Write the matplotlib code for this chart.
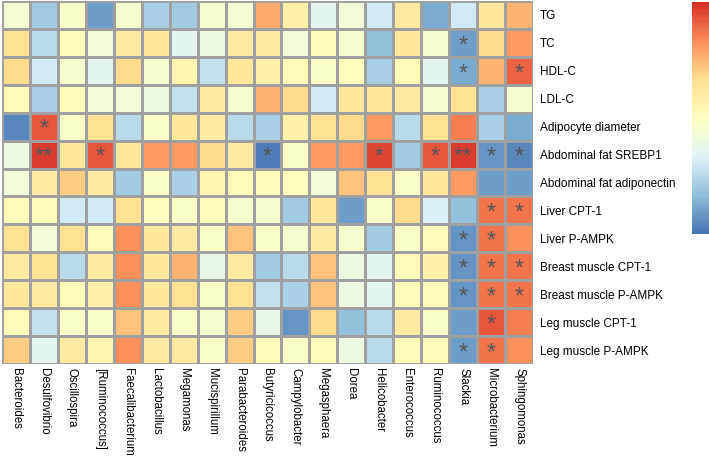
import numpy as np
import matplotlib
matplotlib.use("Agg")
import matplotlib.pyplot as plt
from matplotlib.colors import LinearSegmentedColormap

plt.rcParams['font.family'] = ['Liberation Sans', 'DejaVu Sans']

genera = ['Bacteroides', 'Desulfovibrio', 'Oscillospira', '[Ruminococcus]', 'Faecalibacterium',
          'Lactobacillus', 'Megamonas', 'Mucispirillum', 'Parabacteroides', 'Butyricicoccus',
          'Campylobacter', 'Megasphaera', 'Dorea', 'Helicobacter', 'Enterococcus',
          'Ruminococcus', 'Slackia', 'Microbacterium', 'Sphingomonas']

traits = ['TG', 'TC', 'HDL-C', 'LDL-C', 'Adipocyte diameter', 'Abdominal fat SREBP1',
          'Abdominal fat adiponectin', 'Liver CPT-1', 'Liver P-AMPK', 'Breast muscle CPT-1',
          'Breast muscle P-AMPK', 'Leg muscle CPT-1', 'Leg muscle P-AMPK']

# correlation values, one list per trait
corr = [
    [-0.12, -0.60, -0.08, -0.80, -0.10, -0.55, -0.60, -0.10, -0.12, 0.55, 0.15, -0.30, -0.15, -0.40, 0.20, -0.75, -0.40, 0.25, 0.50],
    [0.30, -0.50, 0.05, -0.15, 0.20, 0.25, -0.30, -0.20, 0.20, 0.20, -0.15, 0.05, -0.10, -0.65, 0.25, -0.10, -0.80, 0.35, 0.60],
    [0.35, -0.40, -0.10, -0.30, 0.35, -0.10, 0.10, -0.45, 0.25, 0.15, 0.05, -0.05, 0.00, -0.55, 0.05, -0.30, -0.75, 0.50, 0.80],
    [0.05, -0.55, 0.05, -0.15, -0.15, -0.20, -0.45, 0.20, -0.10, 0.50, 0.35, -0.40, 0.25, 0.25, 0.20, -0.10, 0.30, -0.55, -0.10],
    [-0.90, 0.85, -0.05, 0.30, -0.50, -0.05, 0.25, 0.20, -0.50, -0.55, 0.15, 0.30, 0.35, 0.60, -0.50, 0.30, 0.70, -0.55, -0.75],
    [-0.20, 0.95, 0.25, 0.85, 0.25, 0.60, 0.60, 0.35, 0.20, -0.95, -0.05, 0.60, 0.60, 0.90, -0.60, 0.85, 0.95, -0.85, -0.90],
    [-0.15, 0.20, 0.40, 0.20, -0.60, -0.05, -0.55, 0.10, 0.05, 0.05, 0.00, -0.15, 0.45, 0.30, -0.05, 0.25, 0.60, -0.80, -0.80],
    [0.05, 0.05, -0.40, -0.40, 0.30, 0.00, -0.05, 0.05, -0.10, -0.10, -0.60, 0.25, -0.80, -0.05, 0.35, -0.35, -0.65, 0.75, 0.75],
    [0.30, -0.15, 0.30, 0.05, 0.65, 0.25, 0.20, -0.05, 0.45, -0.05, -0.10, 0.20, -0.10, -0.60, -0.05, 0.05, -0.85, 0.75, 0.65],
    [0.20, 0.30, -0.50, 0.20, 0.65, 0.25, 0.50, -0.25, 0.20, -0.60, -0.50, 0.45, -0.20, -0.30, 0.05, 0.15, -0.85, 0.75, 0.75],
    [0.25, 0.20, 0.05, 0.15, 0.65, 0.25, 0.30, -0.05, 0.30, -0.45, -0.55, 0.45, -0.20, -0.30, 0.05, 0.05, -0.85, 0.75, 0.75],
    [0.05, -0.45, -0.05, -0.05, 0.45, 0.20, -0.05, -0.10, 0.40, -0.25, -0.85, 0.35, -0.65, -0.50, 0.20, -0.05, -0.80, 0.85, 0.70],
    [0.40, -0.30, 0.20, 0.10, 0.65, 0.20, 0.20, -0.05, 0.40, 0.05, -0.05, 0.05, -0.20, -0.50, 0.05, 0.05, -0.80, 0.75, 0.65],
]

# significance marks: (trait row, genus column, label)
stars = [
    (1, 16, '*'), (2, 16, '*'), (2, 18, '*'),
    (4, 1, '*'),
    (5, 1, '**'), (5, 3, '*'), (5, 9, '*'), (5, 13, '*'), (5, 15, '*'),
    (5, 16, '**'), (5, 17, '*'), (5, 18, '*'),
    (7, 17, '*'), (7, 18, '*'),
    (8, 16, '*'), (8, 17, '*'),
    (9, 16, '*'), (9, 17, '*'), (9, 18, '*'),
    (10, 16, '*'), (10, 17, '*'), (10, 18, '*'),
    (11, 17, '*'),
    (12, 16, '*'), (12, 17, '*'),
]

rdylbu = ['#4575B4', '#91BFDB', '#E0F3F8', '#FFFFBF', '#FEE090', '#FC8D59', '#D73027']
cmap = LinearSegmentedColormap.from_list('pheat', rdylbu, N=100)

data = np.array(corr)

fig = plt.figure(figsize=(7.09, 4.58), dpi=100)
ax = fig.add_axes([2 / 709, 1 - 364 / 458, 531 / 709, 363 / 458])
mesh = ax.pcolormesh(data, cmap=cmap, vmin=-1, vmax=1,
                     edgecolors='#a0a0a0', linewidth=0.9)
ax.set_xlim(0, len(genera))
ax.set_ylim(len(traits), 0)

for r, c, s in stars:
    ax.text(c + 0.5, r + 0.62, s, ha='center', va='center',
            fontsize=17, color='#555555')

ax.set_xticks(np.arange(len(genera)) + 0.5)
ax.set_xticklabels(genera, rotation=270, fontsize=8.3, va='top', ha='center')
ax.set_yticks(np.arange(len(traits)) + 0.5)
ax.set_yticklabels(traits, fontsize=8.5)
ax.yaxis.tick_right()
ax.tick_params(length=0)
ax.tick_params(axis='x', pad=3)
ax.tick_params(axis='y', pad=5)
for sp in ax.spines.values():
    sp.set_visible(False)

cax = fig.add_axes([692 / 709, 1 - 234 / 458, 18 / 709, 232 / 458])
cb = fig.colorbar(mesh, cax=cax)
cb.set_ticks([])
cb.outline.set_visible(False)

fig.savefig('out.png', dpi=100)
